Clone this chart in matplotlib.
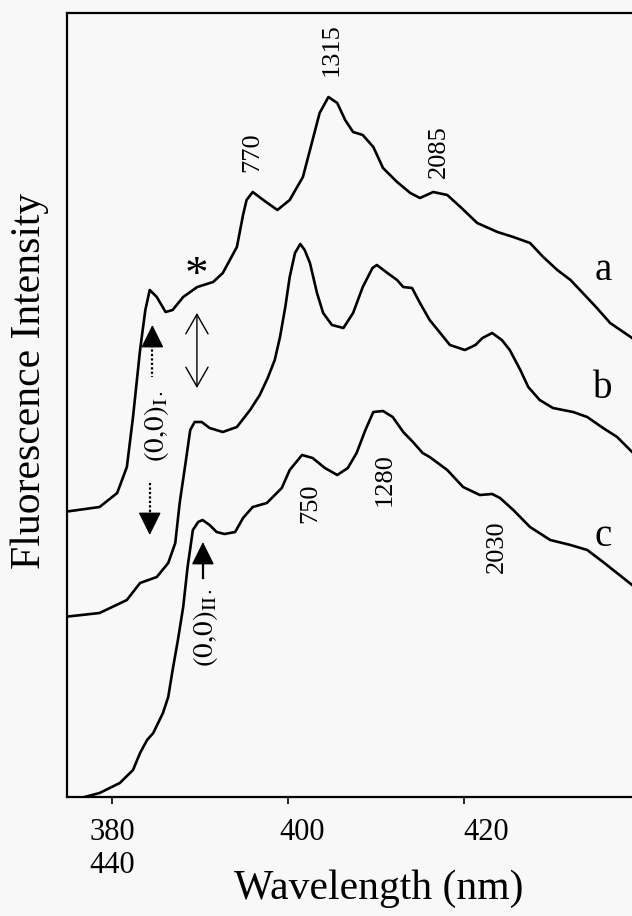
import matplotlib
matplotlib.use("Agg")
import matplotlib.pyplot as plt
from matplotlib.transforms import ScaledTranslation

# wavelength (nm) / intensity (arb. units, curves offset vertically)
wl_a = [374.5, 378.6, 380.6, 381.7, 382.4, 383.2, 383.8, 384.3, 385.1, 386.1,
        386.9, 388.1, 389.7, 391.5, 392.6, 393.4, 394.2, 394.9, 395.3, 396.0,
        397.2, 398.8, 400.2, 401.7, 402.8, 403.6, 404.6, 405.6, 406.5, 407.4,
        408.5, 409.7, 410.8, 412.4, 413.9, 415.0, 416.5, 418.1, 419.6, 421.5,
        423.8, 425.6, 427.5, 429.0, 430.6, 432.1, 433.5, 435.1, 436.6, 439.1,
        440.5]
int_a = [285, 290, 304, 330, 380, 447, 487, 507, 500, 485,
         487, 500, 510, 515, 524, 537, 550, 582, 597, 605,
         597, 587, 597, 620, 657, 684, 700, 694, 677, 665,
         662, 650, 629, 615, 604, 599, 605, 602, 590, 574,
         565, 560, 554, 540, 527, 517, 504, 489, 474, 459,
         447]

wl_b = [374.5, 378.6, 381.7, 383.2, 385.1, 386.4, 387.2, 387.7, 388.3, 388.9,
        389.4, 390.2, 391.1, 392.6, 394.2, 395.7, 396.8, 397.7, 398.5, 399.1,
        399.7, 400.2, 400.8, 401.4, 401.9, 402.5, 403.3, 404.0, 405.0, 406.3,
        407.4, 408.5, 409.6, 410.1, 411.3, 412.4, 413.1, 414.1, 415.0, 416.1,
        417.3, 418.4, 420.1, 421.3, 422.1, 423.2, 424.3, 425.2, 426.4, 427.3,
        428.6, 430.1, 432.4, 434.0, 435.8, 437.4, 439.1, 440.5]
int_b = [180, 184, 197, 214, 220, 234, 254, 294, 330, 367,
         375, 375, 369, 365, 370, 387, 402, 419, 437, 460,
         490, 520, 544, 553, 547, 534, 504, 484, 472, 469,
         484, 510, 529, 532, 524, 517, 510, 509, 494, 477,
         464, 452, 447, 452, 459, 464, 457, 447, 427, 410,
         397, 389, 385, 380, 369, 360, 345, 335]

wl_c = [376.9, 378.6, 380.9, 382.4, 383.2, 384.0, 384.7, 385.8, 386.4, 386.9,
        387.5, 388.1, 388.6, 389.2, 389.8, 390.3, 391.1, 391.9, 392.8, 394.0,
        394.9, 396.0, 397.6, 399.3, 400.2, 401.6, 402.8, 404.2, 405.6, 406.8,
        407.8, 408.8, 409.7, 410.8, 411.9, 413.1, 414.2, 415.3, 416.1, 418.1,
        419.9, 421.8, 423.2, 424.1, 425.6, 427.5, 429.8, 432.1, 434.0, 435.8,
        439.1, 440.5]
int_c = [0, 4, 14, 27, 44, 57, 64, 84, 100, 127,
         157, 190, 230, 267, 275, 277, 272, 265, 263, 265,
         279, 290, 294, 309, 327, 342, 339, 329, 322, 329,
         344, 367, 385, 386, 380, 365, 355, 344, 340, 327,
         310, 302, 303, 299, 287, 270, 257, 252, 247, 235,
         212, 202]

# vibronic spacings (cm-1) marked on the spectra
peak_labels = ["770", "1315", "2085", "750", "1280", "2030"]
peak_pos = [(396.0, 645), (405.0, 747), (417.2, 645),
            (402.5, 294), (411.0, 317), (423.75, 250)]

curve_names = ["a", "b", "c"]
curve_label_pos = [(435.8, 527), (435.8, 408), (435.8, 260)]

xticks = [380, 400, 420]
xticklabels = ["380\n440", "400", "420"]

plt.rcParams["font.family"] = "Liberation Serif"
plt.rcParams["mathtext.fontset"] = "stix"

BG = "#f8f8f8"
fig = plt.figure(figsize=(6.32, 9.16), dpi=100, facecolor=BG)
ax = fig.add_axes([67 / 632, 119 / 916, 577 / 632, 784 / 916])
ax.set_facecolor(BG)

for wl, yy in [(wl_a, int_a), (wl_b, int_b), (wl_c, int_c)]:
    ax.plot(wl, yy, color="black", lw=1.9, solid_joinstyle="round")

ax.set_xlim(374.9, 440.45)
ax.set_ylim(0, 784)
ax.set_yticks([])
ax.set_xticks(xticks)
ax.set_xticklabels(xticklabels, fontsize=22, linespacing=1.2)
ax.tick_params(axis="x", direction="out", length=5, width=1.2, pad=10)
# scanned labels sit a little right of their ticks
for lab, dx in zip(ax.get_xticklabels(), [0, 14, 22]):
    lab.set_transform(lab.get_transform() + ScaledTranslation(dx / 100, 0, fig.dpi_scale_trans))
for s in ax.spines.values():
    s.set_linewidth(1.6)
ax.spines["right"].set_visible(False)

for txt, (x, y) in zip(peak_labels, peak_pos):
    ax.text(x, y, txt, rotation=90, fontsize=19, ha="center", va="center")

for txt, (x, y) in zip(curve_names, curve_label_pos):
    ax.text(x, y, txt, fontsize=28, ha="center", va="center")

ax.text(389.66, 520, "*", fontsize=34, ha="center", va="center")

# double-headed open arrow
ax.annotate("", xy=(389.66, 409), xytext=(389.66, 484),
            arrowprops=dict(arrowstyle="<->,head_length=1.4,head_width=0.8",
                            color="black", lw=1.0, shrinkA=0, shrinkB=0,
                            mutation_scale=10))

# (0,0)_I marker: dotted shafts with filled heads
head = dict(arrowstyle="-|>,head_length=1.45,head_width=0.72", color="black",
            lw=1.0, shrinkA=0, shrinkB=0, mutation_scale=10)
ax.plot([384.6, 384.6], [452, 420], color="black", lw=1.6, ls=(0, (1, 1)))
ax.annotate("", xy=(384.6, 472), xytext=(384.6, 452), arrowprops=head)
ax.plot([384.3, 384.3], [314, 284], color="black", lw=1.6, ls=(0, (1, 1)))
ax.annotate("", xy=(384.3, 262), xytext=(384.3, 284), arrowprops=head)
ax.text(385.1, 371, r"$\mathrm{(0{,}0)}_{\mathrm{I}\cdot}$", rotation=90,
        fontsize=21, ha="center", va="center")

# (0,0)_II marker
ax.plot([390.34, 390.34], [235, 219], color="black", lw=1.6)
ax.annotate("", xy=(390.34, 255), xytext=(390.34, 235), arrowprops=head)
ax.text(390.6, 169, r"$\mathrm{(0{,}0)}_{\mathrm{II}\cdot}$", rotation=90,
        fontsize=21, ha="center", va="center")

fig.text(30 / 632, 1 - 381 / 916, "Fluorescence Intensity", rotation=90,
         fontsize=30, ha="center", va="center")
fig.text(379 / 632, 1 - 889 / 916, "Wavelength (nm)", fontsize=30,
         ha="center", va="center")

fig.savefig("out.png", dpi=100, facecolor=BG)
